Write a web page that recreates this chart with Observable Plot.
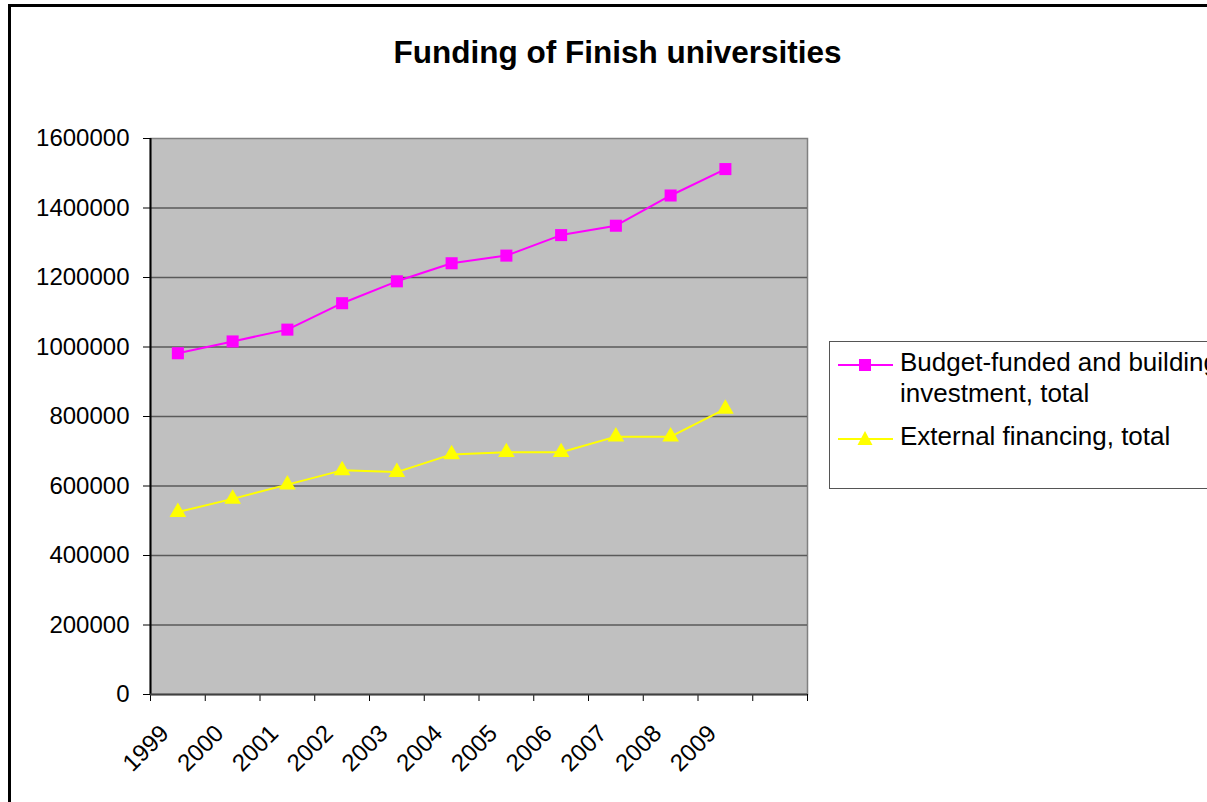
<!DOCTYPE html>
<html>
<head>
<meta charset="utf-8">
<script src="https://cdn.jsdelivr.net/npm/d3@7"></script>
<script src="https://cdn.jsdelivr.net/npm/@observablehq/plot@0.6"></script>
<style>
  body { margin: 0; background: #fff; }
  #wrap { position: relative; width: 1207px; height: 802px; overflow: hidden; font-family: "Liberation Sans", Arial, sans-serif; color: #000; }
  #frame { position: absolute; left: 8px; top: 4px; width: 1400px; height: 1000px; border-left: 3px solid #000; border-top: 3px solid #000; box-sizing: border-box; }
  #chart { position: absolute; left: 0; top: 0; }
  #title { position: absolute; left: 0; width: 1235px; top: 34px; text-align: center; font-weight: bold; font-size: 31.5px; line-height: 36px; white-space: nowrap; }
  #legend { position: absolute; left: 829px; top: 341px; width: 500px; height: 148px; border: 1px solid #555; box-sizing: border-box; background: #fff; }
  .lt { position: absolute; left: 900px; font-size: 26px; line-height: 30px; white-space: nowrap; }
  .sw { position: absolute; left: 836px; }
</style>
</head>
<body>
<div id="wrap">
  <div id="frame"></div>
  <div id="title">Funding of Finish universities</div>
  <div id="chart"></div>
  <div id="legend"></div>
  <svg class="sw" style="top:355px" width="60" height="20">
    <line x1="2" y1="10" x2="57" y2="10" stroke="#ff00ff" stroke-width="2"></line>
    <rect x="23" y="4" width="12" height="12" fill="#ff00ff"></rect>
  </svg>
  <div class="lt" style="top:347px">Budget-funded and building</div>
  <div class="lt" style="top:378px">investment, total</div>
  <svg class="sw" style="top:429px" width="60" height="20">
    <line x1="2" y1="10" x2="57" y2="10" stroke="#ffff00" stroke-width="2"></line>
    <polygon points="29,2 36.5,16 21.5,16" fill="#ffff00"></polygon>
  </svg>
  <div class="lt" style="top:421px">External financing, total</div>
</div>
<script>
const years = ["1999","2000","2001","2002","2003","2004","2005","2006","2007","2008","2009"];
const budget = [982000, 1016000, 1050000, 1126000, 1189000, 1241000, 1263000, 1322000, 1349000, 1436000, 1512000];
const external = [525000, 563000, 604000, 645000, 640000, 691000, 697000, 697000, 742000, 742000, 822000];
const yTicks = [0, 200000, 400000, 600000, 800000, 1000000, 1200000, 1400000, 1600000];
const slots = years.length + 1; // 12 category slots, last one empty

const rows = years.map((year, i) => ({i, year, budget: budget[i], external: external[i]}));
const xPos = d => d.i + 0.5;

const chart = Plot.plot({
  width: 1207,
  height: 802,
  marginLeft: 150,
  marginRight: 400,
  marginTop: 138,
  marginBottom: 108,
  style: {fontFamily: "'Liberation Sans', Arial, sans-serif", fontSize: "24px", background: "transparent", color: "#000"},
  x: {domain: [0, slots], axis: null},
  y: {domain: [0, 1600000], axis: null},
  marks: [
    Plot.frame({fill: "#c0c0c0", stroke: "#808080", strokeWidth: 1.5}),
    Plot.gridY({ticks: yTicks.slice(1, -1), stroke: "#5a5a5a", strokeOpacity: 1, strokeWidth: 1.6}),
    Plot.axisY({ticks: yTicks, tickSize: 7, tickPadding: 14, tickFormat: d => String(d), stroke: "#000", fill: "#000"}),
    Plot.axisX({ticks: d3.range(slots + 1), tickSize: 7, tickFormat: () => "", stroke: "#000"}),
    Plot.axisX({ticks: years.map((y, i) => i + 0.5), tickSize: 0, tickPadding: 35, tickRotate: -45, dx: -13,
      tickFormat: d => years[Math.floor(d)], fill: "#000", fontSize: 24}),
    Plot.ruleX([0], {stroke: "#000", strokeWidth: 2}),
    Plot.ruleY([0], {stroke: "#404040", strokeWidth: 2}),
    Plot.line(rows, {x: xPos, y: "budget", stroke: "#ff00ff", strokeWidth: 2}),
    Plot.dot(rows, {x: xPos, y: "budget", symbol: "square", r: 6.8, fill: "#ff00ff"}),
    Plot.line(rows, {x: xPos, y: "external", stroke: "#ffff00", strokeWidth: 2}),
    Plot.dot(rows, {x: xPos, y: "external", symbol: "triangle", r: 6.2, fill: "#ffff00"})
  ]
});
document.getElementById("chart").appendChild(chart);
</script>
</body>
</html>
